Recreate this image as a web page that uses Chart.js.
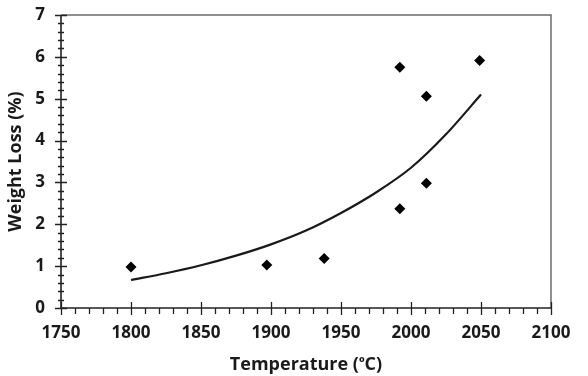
<!DOCTYPE html>
<html>
<head>
<meta charset="utf-8">
<script src="https://cdn.jsdelivr.net/npm/chart.js@4"></script>
<style>
  html, body { margin: 0; padding: 0; background: #fff; }
  #wrap { width: 588px; height: 376px; }
</style>
</head>
<body>
<div id="wrap"><canvas id="chartWL" width="588" height="376"></canvas></div>
<script>
// measured points (temperature in C, weight loss in %)
const tempPts = [1800, 1897, 1938, 1992, 1992, 2011, 2011, 2049];
const lossPts = [0.98, 1.03, 1.18, 5.75, 2.37, 5.06, 2.98, 5.91];

// exponential trendline
const trendT = [1800, 1825, 1850, 1875, 1900, 1925, 1950, 1975, 2000, 2025, 2050];
const trendLoss = [0.67, 0.83, 1.02, 1.25, 1.52, 1.85, 2.27, 2.76, 3.35, 4.15, 5.1];

// axis ticks
const xTicks = [1750, 1800, 1850, 1900, 1950, 2000, 2050, 2100];
const yTicks = [0, 1, 2, 3, 4, 5, 6, 7];
const xMinorStep = 10;
const yMinorStep = 0.2;

const FONT = "'Open Sans', Lato, sans-serif";
const INK = "#1a1a1a";

// crossing ticks + frame, drawn from the scales
const frameTicks = {
    id: "frameTicks",
    afterDraw(chart) {
        const { ctx, chartArea: a, scales: { x, y } } = chart;
        ctx.save();
        // top + right in grey
        ctx.strokeStyle = "#6b6b6b";
        ctx.lineWidth = 1.5;
        ctx.beginPath();
        ctx.moveTo(a.left, a.top);
        ctx.lineTo(a.right, a.top);
        ctx.lineTo(a.right, a.bottom);
        ctx.stroke();
        // axes
        ctx.strokeStyle = "#222";
        ctx.lineWidth = 1.6;
        ctx.beginPath();
        ctx.moveTo(a.left, a.top);
        ctx.lineTo(a.left, a.bottom);
        ctx.lineTo(a.right, a.bottom);
        ctx.stroke();

        ctx.lineWidth = 1.3;
        ctx.beginPath();
        for (let v = yTicks[0]; v <= yTicks[yTicks.length - 1] + 1e-6; v += yMinorStep) {
            const py = Math.round(y.getPixelForValue(v)) + 0.5;
            const major = Math.abs(v - Math.round(v)) < 1e-6;
            const len = major ? 6 : 3;
            ctx.moveTo(a.left - len, py);
            ctx.lineTo(a.left + len, py);
        }
        for (let v = xTicks[0]; v <= xTicks[xTicks.length - 1]; v += xMinorStep) {
            const px = Math.round(x.getPixelForValue(v)) + 0.5;
            const major = (v - xTicks[0]) % 50 === 0;
            if (major) {
                ctx.moveTo(px, a.bottom - 6);
                ctx.lineTo(px, a.bottom + 7);
            } else {
                ctx.moveTo(px, a.bottom);
                ctx.lineTo(px, a.bottom + 6);
            }
        }
        ctx.stroke();
        ctx.restore();
    }
};

function initChart() {
    const canvas = document.getElementById("chartWL");
    new Chart(canvas, {
        type: "scatter",
        data: {
            datasets: [
                {
                    label: "trend",
                    type: "line",
                    data: trendT.map((t, i) => ({ x: t, y: trendLoss[i] })),
                    borderColor: INK,
                    borderWidth: 2.2,
                    pointRadius: 0,
                    tension: 0.3,
                    fill: false,
                    order: 2
                },
                {
                    label: "measured",
                    data: tempPts.map((t, i) => ({ x: t, y: lossPts[i] })),
                    pointStyle: "rectRot",
                    pointRadius: 5.5,
                    backgroundColor: "#000",
                    borderColor: "#000",
                    borderWidth: 0,
                    order: 1
                }
            ]
        },
        options: {
            responsive: false,
            animation: false,
            layout: { padding: { left: 0, right: 37, top: 15, bottom: 0 } },
            plugins: { legend: { display: false }, tooltip: { enabled: false } },
            scales: {
                x: {
                    type: "linear",
                    min: xTicks[0],
                    max: xTicks[xTicks.length - 1],
                    afterBuildTicks: s => { s.ticks = xTicks.map(v => ({ value: v })); },
                    afterFit: s => { s.height = 68; s.paddingLeft = 0; s.paddingRight = 0; },
                    grid: { display: false, drawTicks: false },
                    border: { display: false },
                    ticks: {
                        color: INK, padding: 15,
                        callback: v => String(v),
                        font: { family: FONT, size: 17, weight: "bold" }
                    },
                    title: {
                        display: true,
                        text: "Temperature (\u1D52C)",
                        color: INK,
                        padding: { top: 5, bottom: 0 },
                        font: { family: FONT, size: 18, weight: "bold" }
                    }
                },
                y: {
                    min: yTicks[0],
                    max: yTicks[yTicks.length - 1],
                    afterBuildTicks: s => { s.ticks = yTicks.map(v => ({ value: v })); },
                    afterFit: s => { s.width = 61; s.paddingTop = 0; s.paddingBottom = 0; },
                    grid: { display: false, drawTicks: false },
                    border: { display: false },
                    ticks: { color: INK, padding: 16, font: { family: FONT, size: 17, weight: "bold" } },
                    title: {
                        display: true,
                        text: "Weight Loss (%)",
                        color: INK,
                        padding: { top: 5, bottom: 0 },
                        font: { family: FONT, size: 18, weight: "bold" }
                    }
                }
            }
        },
        plugins: [frameTicks]
    });
}

document.addEventListener("DOMContentLoaded", initChart);
</script>
</body>
</html>
